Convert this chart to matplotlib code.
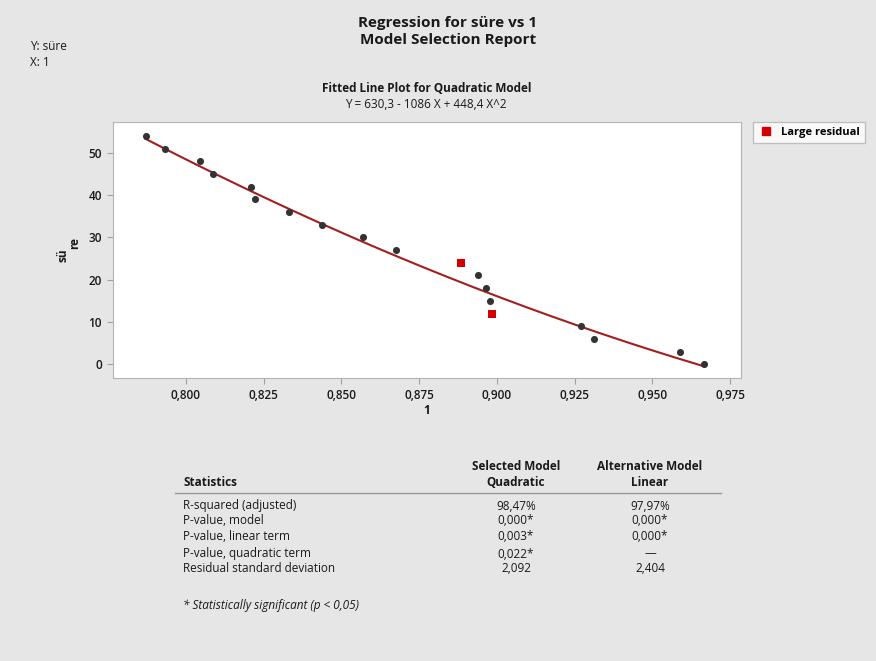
import numpy as np
import matplotlib
matplotlib.use('Agg')
import matplotlib.pyplot as plt
from matplotlib.lines import Line2D

plt.rcParams['font.family'] = ['Open Sans', 'DejaVu Sans']

x_obs = [0.7871, 0.7933, 0.8047, 0.8086, 0.8209, 0.8224, 0.8333, 0.8439,
         0.8570, 0.8677, 0.8940, 0.8965, 0.8978, 0.9272, 0.9311, 0.9588, 0.9665]
y_obs = [54, 51, 48, 45, 42, 39, 36, 33, 30, 27, 21, 18, 15, 9, 6, 3, 0]

# points flagged as large residuals
x_big = [0.8886, 0.8985]
y_big = [24, 12]

# quadratic model coefficients  Y = b0 + b1 X + b2 X^2
b0, b1, b2 = 630.3, -1086.0, 448.4

x_ticks = [0.800, 0.825, 0.850, 0.875, 0.900, 0.925, 0.950, 0.975]
y_ticks = [0, 10, 20, 30, 40, 50]

stat_names = ['R-squared (adjusted)', 'P-value, model', 'P-value, linear term',
              'P-value, quadratic term', 'Residual standard deviation']
quad_vals = ['98,47%', '0,000*', '0,003*', '0,022*', '2,092']
lin_vals = ['97,97%', '0,000*', '0,000*', '\u2014', '2,404']

W, H = 876, 661
bg = '#e6e6e6'


def fx(px):
    return px / W


def fy(py):
    return 1 - py / H


fig = plt.figure(figsize=(W / 100, H / 100), dpi=100, facecolor=bg)

# titles
fig.text(fx(448), fy(23), 'Regression for süre vs 1', ha='center', va='center',
         fontsize=11, fontweight='bold', color='#1a1a1a')
fig.text(fx(448), fy(40), 'Model Selection Report', ha='center', va='center',
         fontsize=11, fontweight='bold', color='#1a1a1a')
fig.text(fx(30), fy(47), 'Y: süre', ha='left', va='center', fontsize=8.5, color='#1a1a1a')
fig.text(fx(30), fy(63), 'X: 1', ha='left', va='center', fontsize=8.5, color='#1a1a1a')
fig.text(fx(427), fy(88), 'Fitted Line Plot for Quadratic Model', ha='center',
         va='center', fontsize=8.5, fontweight='bold', color='#1a1a1a')
fig.text(fx(426), fy(105), 'Y = 630,3 - 1086 X + 448,4 X^2', ha='center',
         va='center', fontsize=8.5, color='#1a1a1a')

# fitted line plot
ax = fig.add_axes([fx(113), fy(378), (741 - 113) / W, (378 - 122) / H])
ax.set_facecolor('white')
xx = np.linspace(min(x_obs), max(x_obs), 200)
ax.plot(xx, b0 + b1 * xx + b2 * xx ** 2, color='#a31e1e', lw=1.5, zorder=2)
ax.scatter(x_obs, y_obs, s=26, color='#333333', zorder=3, linewidths=0)
ax.scatter(x_big, y_big, s=34, marker='s', color='#d40000', zorder=3, linewidths=0)

ax.set_xlim(0.7766, 0.9785)
ax.set_ylim(-3.25, 57.3)
ax.set_xticks(x_ticks)
ax.set_xticklabels([('%.3f' % t).replace('.', ',') for t in x_ticks])
ax.set_yticks(y_ticks)
for s in ax.spines.values():
    s.set_color('#b4b4b4')
ax.tick_params(direction='out', length=4, color='#a0a0a0', labelsize=8.5,
               labelcolor='#1a1a1a', pad=4)
for lab in ax.get_xticklabels() + ax.get_yticklabels():
    lab.set_fontweight('semibold')

fig.text(fx(427), fy(411), '1', ha='center', va='center', fontsize=8.5,
         fontweight='bold', color='#1a1a1a')
fig.text(fx(63), fy(255), 'sü', ha='center', va='center', rotation=90,
         fontsize=8.5, fontweight='bold', color='#1a1a1a')
fig.text(fx(75), fy(243), 're', ha='center', va='center', rotation=90,
         fontsize=8.5, fontweight='bold', color='#1a1a1a')

# legend
handle = Line2D([], [], marker='s', ls='none', color='#d40000', markersize=6)
leg = fig.legend([handle], ['Large residual'], loc='upper left',
                 bbox_to_anchor=(fx(753), fy(122)), frameon=True, fancybox=False,
                 prop={'size': 8, 'weight': 'bold'}, handletextpad=0.6,
                 borderpad=0.45, handlelength=1.5, borderaxespad=0)
leg.get_frame().set_edgecolor('#b4b4b4')
leg.get_frame().set_linewidth(1.0)

# statistics table
fig.text(fx(516), fy(466), 'Selected Model', ha='center', va='center',
         fontsize=8.5, fontweight='bold', color='#1a1a1a')
fig.text(fx(516), fy(482), 'Quadratic', ha='center', va='center',
         fontsize=8.5, fontweight='bold', color='#1a1a1a')
fig.text(fx(650), fy(466), 'Alternative Model', ha='center', va='center',
         fontsize=8.5, fontweight='bold', color='#1a1a1a')
fig.text(fx(650), fy(482), 'Linear', ha='center', va='center',
         fontsize=8.5, fontweight='bold', color='#1a1a1a')
fig.text(fx(183), fy(482), 'Statistics', ha='left', va='center',
         fontsize=8.5, fontweight='bold', color='#1a1a1a')
fig.add_artist(Line2D([fx(175), fx(721)], [fy(493), fy(493)], color='#999999', lw=1))

row_y = [506, 521, 537, 554, 568]
for name, q, l, ry in zip(stat_names, quad_vals, lin_vals, row_y):
    fig.text(fx(183), fy(ry), name, ha='left', va='center', fontsize=8.5, color='#1a1a1a')
    fig.text(fx(516), fy(ry), q, ha='center', va='center', fontsize=8.5, color='#1a1a1a')
    fig.text(fx(650), fy(ry), l, ha='center', va='center', fontsize=8.5, color='#1a1a1a')

fig.text(fx(183), fy(606), '* Statistically significant (p < 0,05)', ha='left',
         va='center', fontsize=8.5, style='italic', color='#1a1a1a')

fig.savefig('out.png', dpi=100, facecolor=bg)
